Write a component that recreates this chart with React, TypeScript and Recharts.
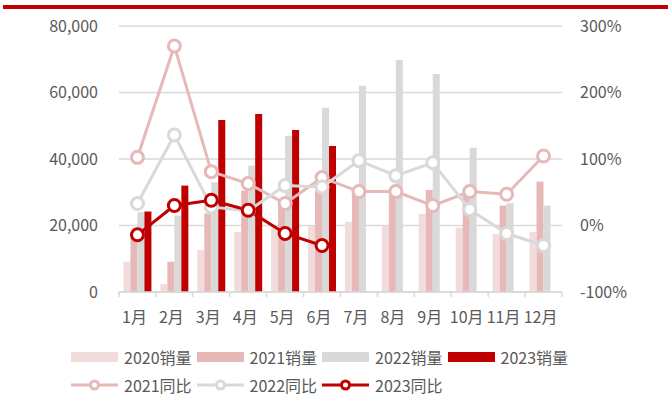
import { ComposedChart, Bar, Line, XAxis, YAxis, CartesianGrid } from 'recharts';

const months = ['1月', '2月', '3月', '4月', '5月', '6月', '7月', '8月', '9月', '10月', '11月', '12月'];
const sales2020 = [9100, 2400, 12600, 18100, 19200, 19800, 21100, 19800, 23500, 19300, 17400, 18100];
const sales2021 = [16200, 9100, 23600, 30500, 27000, 35000, 30500, 31000, 30700, 29500, 26000, 33200];
const sales2022 = [24000, 23000, 33000, 38000, 47000, 55400, 62000, 69800, 65600, 43400, 26700, 26000];
const sales2023 = [24200, 32000, 51700, 53500, 48700, 43900, null, null, null, null, null, null];
const yoy2021 = [102.5, 270, 81, 63, 33, 72, 51, 51, 30, 51, 47, 104.5];
const yoy2022 = [33, 136, 28, 22, 60, 58, 97.5, 75, 94.5, 24, -12, -30];
const yoy2023 = [-14, 30, 38, 23, -12, -30, null, null, null, null, null, null];
const leftTicks = [0, 20000, 40000, 60000, 80000];
const rightTicks = [-100, 0, 100, 200, 300];

const C2020 = '#f2dcdb';
const C2021 = '#e6b9b8';
const C2022 = '#d9d9d9';
const C2023 = '#c00000';
const TEXT = '#595959';
const FONT = '"Noto Sans CJK SC", "Noto Sans", sans-serif';

const data = months.map((m, i) => ({
  month: m,
  s2020: sales2020[i],
  s2021: sales2021[i],
  s2022: sales2022[i],
  s2023: sales2023[i],
  y2021: yoy2021[i],
  y2022: yoy2022[i],
  y2023: yoy2023[i],
}));

const barLegend = [
  { name: '2020销量', color: C2020 },
  { name: '2021销量', color: C2021 },
  { name: '2022销量', color: C2022 },
  { name: '2023销量', color: C2023 },
];
const lineLegend = [
  { name: '2021同比', color: C2021 },
  { name: '2022同比', color: C2022 },
  { name: '2023同比', color: C2023 },
];

const PLOT_W = 443;
const STEP = PLOT_W / months.length;

// x 轴刻度：文字居中，刻度线画在类别边界
function MonthTick(props: any) {
  const { x, y, payload, index } = props;
  const left = x - STEP / 2;
  return (
    <g>
      <line x1={left} y1={y - 20} x2={left} y2={y - 15} stroke={C2022} strokeWidth={1.5} />
      {index === months.length - 1 && (
        <line x1={left + STEP} y1={y - 20} x2={left + STEP} y2={y - 15} stroke={C2022} strokeWidth={1.5} />
      )}
      <text x={x - 3} y={y} dy="0.71em" textAnchor="middle" fill={TEXT} fontSize={16} fontFamily={FONT}>
        {payload.value}
      </text>
    </g>
  );
}

const dotStyle = (color: string) => ({ r: 6, stroke: color, strokeWidth: 3, fill: '#fff' });

export default function App() {
  return (
    <div style={{ position: 'absolute', left: 0, top: 0, width: 668, height: 401, background: '#fff', fontFamily: FONT }}>
      <div style={{ position: 'absolute', left: 3, top: 5, width: 665, height: 4, background: C2023 }} />
      <div style={{ position: 'absolute', left: 0, top: 0 }}>
        <ComposedChart
          width={668}
          height={340}
          data={data}
          margin={{ top: 26, right: 50, left: 0, bottom: 0 }}
          barCategoryGap="12%"
          barGap={0}
        >
          <CartesianGrid vertical={false} stroke={C2022} strokeWidth={1.5} yAxisId="left" />
          <XAxis
            dataKey="month"
            height={48}
            axisLine={{ stroke: C2022, strokeWidth: 1.5 }}
            tickLine={false}
            tickSize={0}
            tickMargin={20}
            interval={0}
            tick={<MonthTick />}
          />
          <YAxis
            yAxisId="left"
            width={119}
            domain={[0, 80000]}
            ticks={leftTicks}
            axisLine={false}
            tickLine={false}
            tickSize={0}
            tickMargin={21}
            tick={{ fill: TEXT, fontSize: 16, fontFamily: FONT }}
            tickFormatter={(v: number) => v.toLocaleString('en-US')}
          />
          <YAxis
            yAxisId="right"
            orientation="right"
            width={56}
            domain={[-100, 300]}
            ticks={rightTicks}
            axisLine={false}
            tickLine={false}
            tickSize={0}
            tickMargin={18}
            tick={{ fill: TEXT, fontSize: 16, fontFamily: FONT, textAnchor: 'start' }}
            tickFormatter={(v: number) => `${v}%`}
          />
          <Bar yAxisId="left" dataKey="s2020" fill={C2020} isAnimationActive={false} />
          <Bar yAxisId="left" dataKey="s2021" fill={C2021} isAnimationActive={false} />
          <Bar yAxisId="left" dataKey="s2022" fill={C2022} isAnimationActive={false} />
          <Bar yAxisId="left" dataKey="s2023" fill={C2023} isAnimationActive={false} />
          <Line yAxisId="right" type="linear" dataKey="y2021" stroke={C2021} strokeWidth={3} dot={dotStyle(C2021)} activeDot={false} isAnimationActive={false} />
          <Line yAxisId="right" type="linear" dataKey="y2022" stroke={C2022} strokeWidth={3} dot={dotStyle(C2022)} activeDot={false} isAnimationActive={false} />
          <Line yAxisId="right" type="linear" dataKey="y2023" stroke={C2023} strokeWidth={3} dot={dotStyle(C2023)} activeDot={false} isAnimationActive={false} />
        </ComposedChart>
      </div>
      {/* 图例 */}
      <div style={{ position: 'absolute', left: 71, top: 346, display: 'flex' }}>
        {barLegend.map((item) => (
          <div key={item.name} style={{ width: 125.5, display: 'flex', alignItems: 'center', height: 22 }}>
            <div style={{ width: 47, height: 10, background: item.color, marginRight: 6 }} />
            <span style={{ fontSize: 16, color: TEXT }}>{item.name}</span>
          </div>
        ))}
      </div>
      <div style={{ position: 'absolute', left: 71, top: 374, display: 'flex' }}>
        {lineLegend.map((item) => (
          <div key={item.name} style={{ width: 125.5, display: 'flex', alignItems: 'center', height: 22 }}>
            <svg width={47} height={14} style={{ marginRight: 6 }}>
              <line x1={0} y1={7} x2={47} y2={7} stroke={item.color} strokeWidth={3} />
              <circle cx={23.5} cy={7} r={4} fill="#fff" stroke={item.color} strokeWidth={3} />
            </svg>
            <span style={{ fontSize: 16, color: TEXT }}>{item.name}</span>
          </div>
        ))}
      </div>
    </div>
  );
}
